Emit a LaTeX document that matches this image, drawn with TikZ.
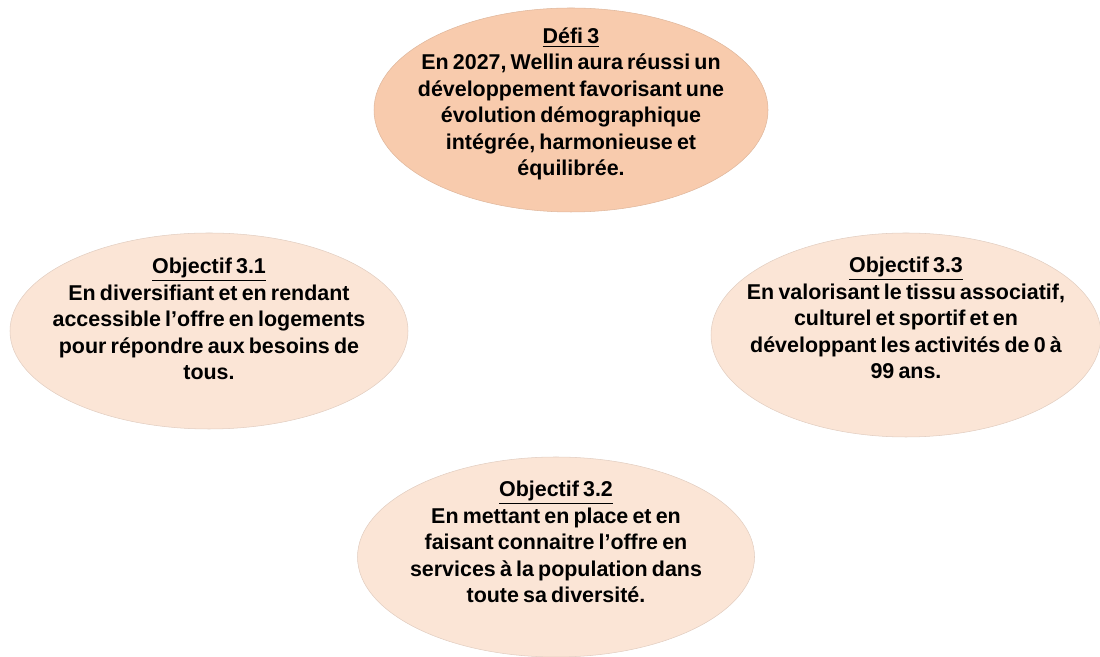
\documentclass[tikz,border=0pt]{standalone}
\usepackage{fontspec}
\setmainfont[WordSpace={0.7}]{Liberation Sans}
\usepackage{tikz}
\usetikzlibrary{shapes.geometric,positioning}
\definecolor{peach}{HTML}{F8CBAD}
\definecolor{lightpeach}{HTML}{FBE5D6}
\tikzset{font=\fontsize{12.2}{15.1}\selectfont\bfseries}
\tikzstyle{oval}=[ellipse,fill=lightpeach,draw=lightpeach!90!black,line width=0.3pt,inner sep=0pt]
\tikzstyle{txt}=[align=center,inner sep=0pt]

\begin{document}
\begin{tikzpicture}[scale=2]
\useasboundingbox (0,0) rectangle (11,6.57);
\node[oval,fill=peach,draw=peach!90!black,minimum width=7.88cm,minimum height=4.08cm] (D) at (5.71,5.47) {};
\node[oval,minimum width=7.96cm,minimum height=3.92cm] (O1) at (2.09,3.26) {};
\node[oval,minimum width=7.8cm,minimum height=4.08cm] (O3) at (9.06,3.22) {};
\node[oval,minimum width=7.94cm,minimum height=4.0cm] (O2) at (5.56,1.00) {};
\node[txt] (DT) at (5.71,5.53) {\underline{Défi 3}\\En 2027, Wellin aura réussi un\\développement favorisant une\\évolution démographique\\intégrée, harmonieuse et\\équilibrée.};
\node[txt] (O1T) at (2.09,3.38) {\underline{Objectif 3.1}\\En diversifiant et en rendant\\accessible l’offre en logements\\pour répondre aux besoins de\\tous.};
\node[txt] (O3T) at (9.06,3.39) {\underline{Objectif 3.3}\\En valorisant le tissu associatif,\\culturel et sportif et en\\développant les activités de 0 à\\99 ans.};
\node[txt] (O2T) at (5.56,1.15) {\underline{Objectif 3.2}\\En mettant en place et en\\faisant connaitre l’offre en\\services à la population dans\\toute sa diversité.};
\end{tikzpicture}
\end{document}
